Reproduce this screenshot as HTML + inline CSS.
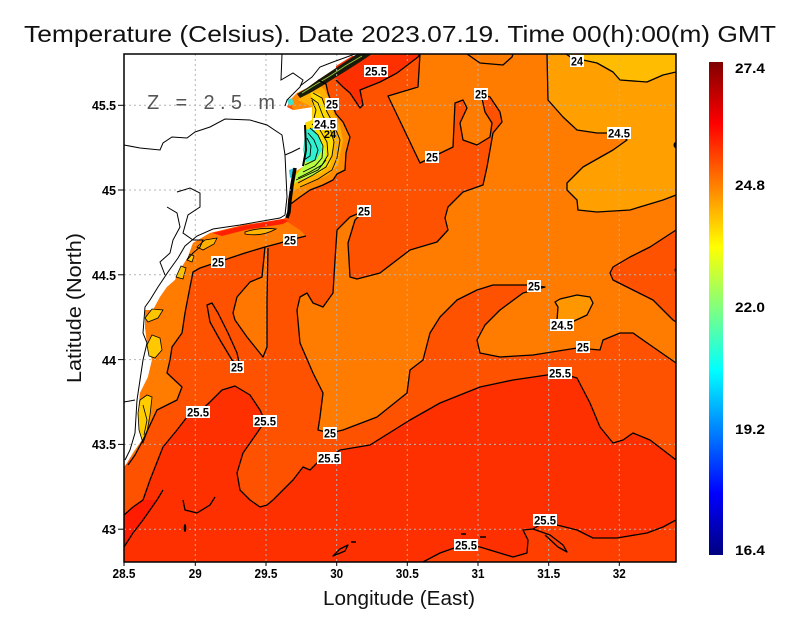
<!DOCTYPE html>
<html><head><meta charset="utf-8"><style>html,body{margin:0;padding:0;background:#fff}svg{display:block}</style></head>
<body>
<svg width="800" height="618" viewBox="0 0 800 618" xmlns="http://www.w3.org/2000/svg" font-family="'Liberation Sans', sans-serif">
<defs>
<clipPath id="plot"><rect x="124" y="54" width="552" height="508"/></clipPath>
<linearGradient id="jet" x1="0" y1="0" x2="0" y2="1">
 <stop offset="0" stop-color="#800000"/>
 <stop offset="0.125" stop-color="#ff0000"/>
 <stop offset="0.375" stop-color="#ffff00"/>
 <stop offset="0.625" stop-color="#00ffff"/>
 <stop offset="0.875" stop-color="#0000ff"/>
 <stop offset="1" stop-color="#000080"/>
</linearGradient>
</defs>
<rect width="800" height="618" fill="#fff"/>
<text x="24" y="42" font-size="23" fill="#111" textLength="752" lengthAdjust="spacingAndGlyphs">Temperature (Celsius). Date 2023.07.19. Time 00(h):00(m) GMT</text>

<g clip-path="url(#plot)">
<!-- sea base (25-25.5) -->
<path fill="#ff5200" d="M360,54 L345,62 L330,72 L318,80 L307,88 L297,93 L290,100 L287,107 L293,110 L312,107 L312,120 L305,123 L305,150 L303,167 L293,173 L292,187 L288,200 L287,217 L283,219 L243,225 L210,233 L193,243 L188,257 L180,270 L175,280 L167,287 L160,297 L153,310 L145,310 L145,327 L147,343 L152,360 L148,377 L140,393 L138,413 L142,440 L133,453 L127,463 L124,467 L124,562 L676,562 L676,54 Z"/>
<!-- big orange T<25 -->
<path fill="#ff7c00" d="M420,54 L418,87 L388,96 L420,163 L453,147 L455,103 L463,100 L467,108 L460,123 L463,140 L477,145 L490,137 L492,123 L485,112 L481,94 L490,97 L500,112 L502,122 L493,133 L487,167 L483,185 L463,192 L448,207 L445,218 L448,230 L437,242 L410,250 L380,273 L357,279 L350,277 L349,260 L348,243 L355,220 L364,211 L350,217 L337,230 L335,260 L333,293 L323,307 L313,303 L307,293 L300,297 L297,310 L300,343 L313,373 L323,393 L320,417 L318,430 L330,433 L343,430 L377,417 L407,393 L410,370 L423,360 L430,333 L440,317 L457,300 L477,290 L493,285 L527,285 L545,287 L523,293 L500,310 L485,325 L477,340 L480,353 L500,357 L533,355 L577,348 L600,350 L603,340 L620,333 L633,333 L653,347 L676,363 L676,54 Z"/>
<!-- right edge warmer patch -->
<path fill="#ff5200" d="M676,230 L650,247 L630,257 L613,267 L610,273 L613,280 L633,290 L653,300 L673,320 L676,322 Z"/>
<!-- NE cooler -->
<path fill="#ffa000" d="M547,54 L548,100 L563,117 L577,130 L597,133 L619,133 L627,140 L613,150 L583,167 L567,183 L567,190 L577,200 L578,210 L597,212 L630,210 L663,200 L676,195 L676,54 Z"/>
<path fill="#ffbc00" d="M566,54 L572,58 L583,60 L597,63 L613,72 L620,80 L647,82 L663,75 L676,72 L676,54 Z"/>
<path fill="#ff9800" d="M555,302 L560,299 L577,295 L590,297 L593,303 L587,315 L572,322 L557,320 L558,307 Z"/>
<!-- red top patch -->
<path fill="#ff3000" d="M336,66 L352,56 L420,54 L418,57 L397,73 L380,82 L360,90 L363,105 L360,108 L350,93 L343,87 L336,80 Z"/>
<!-- red south -->
<path fill="#ff3000" d="M124,515 L133,507 L143,500 L150,480 L163,447 L177,430 L187,417 L198,413 L210,402 L222,390 L235,386 L250,395 L260,410 L265,421 L257,433 L243,453 L237,473 L240,490 L250,500 L260,507 L267,505 L273,500 L280,493 L293,480 L303,467 L310,470 L317,463 L329,458 L340,450 L370,445 L410,420 L440,403 L480,387 L513,380 L547,375 L560,373 L577,378 L590,403 L600,427 L613,443 L623,440 L633,433 L650,440 L667,453 L676,460 L676,562 L124,562 Z"/>
<path fill="#ff3f00" d="M423,562 L440,553 L457,547 L466,545 L480,547 L513,557 L527,553 L528,540 L523,530 L533,529 L545,522 L557,525 L577,530 L593,538 L617,538 L647,533 L663,527 L676,520 L676,562 Z"/>
<path fill="#ff1c00" d="M124,515 L133,507 L143,500 L157,500 L150,510 L143,520 L133,533 L124,547 Z"/>
<!-- coastal orange band (west) -->
<path fill="#ff7c00" d="M210,233 L243,226 L283,219 L300,230 L306,236 L298,238 L282,242 L265,247 L245,253 L230,258 L218,262 L200,268 L193,272 L190,287 L185,313 L182,333 L172,347 L170,360 L167,373 L182,387 L177,400 L157,410 L150,425 L143,440 L135,455 L128,465 L133,453 L142,440 L138,413 L140,393 L148,377 L152,360 L147,343 L145,327 L145,310 L153,310 L160,297 L167,287 L175,280 L180,270 L188,257 L193,243 Z"/>
<path fill="#ff7600" d="M265,247 L262,277 L250,282 L237,297 L233,313 L235,320 L247,337 L263,357 L267,347 L267,300 L268,248 Z"/>
<!-- red coastal strip -->
<path fill="#ff2000" d="M212,233 L243,226 L283,219 L288,221 L283,224 L245,230 L222,236 Z"/>
<!-- yellow patches lower coast -->
<path fill="#ffb400" stroke="#000" stroke-width="0.8" d="M245,232 Q260,227 276,229 Q262,237 245,234 Z"/>
<path fill="#ffb000" stroke="#000" stroke-width="0.8" d="M197,247 L205,240 L217,238 L214,244 L203,250 Z"/>
<path fill="#ffc800" stroke="#000" stroke-width="0.8" d="M187,260 L190,254 L194,256 L192,262 Z"/>
<path fill="#ffc000" stroke="#000" stroke-width="0.8" d="M176,277 L181,266 L186,268 L183,279 Z"/>
<path fill="#ffc400" stroke="#000" stroke-width="0.8" d="M145,318 L152,309 L163,310 L158,318 L148,322 Z"/>
<path fill="#ffc800" stroke="#000" stroke-width="0.8" d="M147,345 L152,335 L160,338 L162,350 L155,358 L149,356 Z"/>
<path fill="#ffcc00" stroke="#000" stroke-width="0.8" d="M140,400 L147,395 L152,397 L150,415 L147,432 L143,443 L139,430 L138,413 Z"/>
<path fill="none" stroke="#000" stroke-width="0.8" d="M143,405 L147,420 L144,435"/>
<!-- north coastal cool zone -->
<path fill="#ff8a00" d="M318,80 L326,84 L328,93 L332,104 L336,114 L343,122 L350,137 L346,153 L345,170 L337,174 L333,180 L323,185 L310,190 L300,197 L292,203 L288,205 L288,200 L292,187 L293,173 L303,167 L305,150 L305,123 L312,120 L312,107 L293,110 L290,100 L297,93 L307,88 Z"/>
<path fill="#ffb000" d="M307,88 L318,84 L325,90 L330,102 L334,114 L340,126 L343,140 L340,155 L338,165 L328,175 L312,182 L300,188 L292,190 L293,173 L303,167 L305,150 L305,123 L312,120 L312,107 L298,100 Z"/>
<path fill="#ffdc00" d="M310,92 L320,94 L325,106 L330,119 L334,133 L333,150 L330,165 L320,173 L305,178 L295,182 L296,175 L303,167 L305,150 L305,123 L312,120 L313,105 Z"/>
<path fill="#b8ff40" d="M305,140 L318,138 L326,150 L325,165 L315,175 L300,180 L294,184 L296,175 L303,167 L305,150 Z"/>
<path fill="#30f0d0" d="M305,130 L313,128 L320,138 L322,150 L316,160 L306,162 L303,150 L305,135 Z"/>
<path fill="#40e0d0" d="M287,100 L292,98 L294,104 L289,106 Z"/>
<path fill="#30c8e0" d="M289,170 L294,168 L295,176 L290,178 Z"/>
<g fill="none" stroke="#000" stroke-width="0.9">
<path d="M313,93 L322,98 L327,112 L334,125 L340,140 L337,158 L332,170 L318,179 L300,187"/>
<path d="M311,98 L318,103 L323,116 L330,128 L334,142 L332,156 L326,167 L313,175 L298,183"/>
<path d="M312,124 L320,130 L327,142 L328,155 L322,165 L310,172 L298,178"/>
<path d="M310,128 L318,135 L323,146 L322,158 L315,166 L303,172"/>
<path d="M308,133 L314,140 L318,150 L315,160 L305,165"/>
<path d="M307,138 L311,146 L310,156 L304,160"/>
<path d="M312,100 L316,110 L314,118"/>
<path d="M296,180 L305,176 L318,170 L326,160"/>
</g>
<!-- dark dense band at top of coast -->
<path fill="#1a1a0a" d="M297,94 L307,88 L318,80 L330,72 L345,62 L357,54 L372,54 L360,62 L346,71 L333,79 L322,86 L310,93 L300,98 Z"/>
<path fill="none" stroke="#9cd040" stroke-width="0.8" d="M302,93 L315,85 L330,76 L345,66 L362,56"/>
<path fill="none" stroke="#000" stroke-width="3.5" d="M295,168 L292,185 L290,200 L289,212 L287,218"/>
<path fill="none" stroke="#000" stroke-width="2" d="M305,125 L306,150 L303,166"/>

<!-- gridlines -->
<g stroke="#b4b4b4" stroke-width="1" stroke-dasharray="2 3">
<line x1="195.3" y1="54" x2="195.3" y2="562"/>
<line x1="266" y1="54" x2="266" y2="562"/>
<line x1="336.7" y1="54" x2="336.7" y2="562"/>
<line x1="407.3" y1="54" x2="407.3" y2="562"/>
<line x1="478" y1="54" x2="478" y2="562"/>
<line x1="548.7" y1="54" x2="548.7" y2="562"/>
<line x1="619.3" y1="54" x2="619.3" y2="562"/>
<line x1="124" y1="105.3" x2="676" y2="105.3"/>
<line x1="124" y1="190" x2="676" y2="190"/>
<line x1="124" y1="274.8" x2="676" y2="274.8"/>
<line x1="124" y1="359.6" x2="676" y2="359.6"/>
<line x1="124" y1="444.4" x2="676" y2="444.4"/>
<line x1="124" y1="529.2" x2="676" y2="529.2"/>
</g>

<!-- contour lines -->
<g fill="none" stroke="#000" stroke-width="1.3" stroke-linejoin="round">
<path d="M420,54 L418,87 L388,96 L420,163 L453,147 L455,103 L463,100 L467,108 L460,123 L463,140 L477,145 L490,137 L492,123 L485,112 L481,94 L490,97 L500,112 L502,122 L493,133 L487,167 L483,185 L463,192 L448,207 L445,218 L448,230 L437,242 L410,250 L380,273 L357,279 L350,277 L349,260 L348,243 L355,220 L364,211 L350,217 L337,230 L335,260 L333,293 L323,307 L313,303 L307,293 L300,297 L297,310 L300,343 L313,373 L323,393 L320,417 L318,430 L330,433 L343,430 L377,417 L407,393 L410,370 L423,360 L430,333 L440,317 L457,300 L477,290 L493,285 L527,285 L545,287 L523,293 L500,310 L485,325 L477,340 L480,353 L500,357 L533,355 L577,348 L600,350 L603,340 L620,333 L633,333 L653,347 L676,363"/>
<path d="M547,54 L548,100 L563,117 L577,130 L597,133 L619,133 L627,140 L613,150 L583,167 L567,183 L567,190 L577,200 L578,210 L597,212 L630,210 L663,200 L676,195"/>
<path d="M566,54 L572,58 L583,60 L597,63 L613,72 L620,80 L647,82 L663,75 L676,72"/>
<path d="M467,54 L480,63 L503,65 L512,57 L513,54"/>
<path d="M676,230 L650,247 L630,257 L613,267 L610,273 L613,280 L633,290 L653,300 L673,320 L676,322"/>
<path d="M555,302 L560,299 L577,295 L590,297 L593,303 L587,315 L572,322 L557,320 L558,307 Z"/>
<path d="M124,515 L133,507 L143,500 L150,480 L163,447 L177,430 L187,417 L198,413 L210,402 L222,390 L235,386 L250,395 L260,410 L265,421 L257,433 L243,453 L237,473 L240,490 L250,500 L260,507 L267,505 L273,500 L280,493 L293,480 L303,467 L310,470 L317,463 L329,458 L340,450 L370,445 L410,420 L440,403 L480,387 L513,380 L547,375 L560,373 L577,378 L590,403 L600,427 L613,443 L623,440 L633,433 L650,440 L667,453 L676,460"/>
<path d="M423,562 L440,553 L457,547 L466,545 L480,547 L513,557 L527,553 L528,540 L523,530 L533,529 L545,522 L557,525 L577,530 L593,538 L617,538 L647,533 L663,527 L676,520"/>
<path d="M533,529 L550,535 L563,545 L567,552 L558,547 L545,535"/>
<path d="M306,236 L298,238 L290,240 L280,243 L265,247 L245,253 L230,258 L218,262 L200,268 L193,272 L190,287 L185,313 L182,333 L172,347 L170,360 L167,373 L182,387 L177,400 L157,410 L150,425 L143,440 L135,455 L128,465"/>
<path d="M265,247 L262,277 L250,282 L237,297 L233,313 L235,320 L247,337 L263,357 L267,347 L267,300 L268,248"/>
<path d="M207,305 L212,303 L218,313 L228,333 L237,353 L240,367 L232,360 L220,340 L210,322 Z"/>
<path d="M318,80 L326,84 L328,93 L332,104 L336,114 L343,122 L350,137 L346,153 L345,170 L337,174 L333,180 L323,185 L310,190 L300,197 L292,203 L288,205"/>
<path d="M336,80 L343,87 L350,93 L360,108 L363,105 L360,90 L380,82 L397,73 L418,57 L420,54"/>
<path d="M124,547 L133,533 L143,520 L150,510 L157,500 L163,490"/>
<path d="M183,500 L185,510 L197,513 L210,505 L215,497"/>
<path d="M333,556 L340,549 L348,545 L345,551 Z"/>
</g>
<g stroke="#000" stroke-width="1.5">
<line x1="351" y1="542" x2="356" y2="542"/>
<line x1="461" y1="534" x2="466" y2="534"/>
<line x1="480" y1="537" x2="486" y2="537"/>
</g>
<ellipse cx="185" cy="528" rx="1.3" ry="4" fill="#000"/>
<circle cx="677" cy="145" r="3.5" fill="#000"/>
<circle cx="677" cy="270" r="2.5" fill="#000"/>

<!-- land outlines -->
<g fill="none" stroke="#000" stroke-width="1">
<path d="M124,145 L140,148 L160,150 L163,143 L172,137 L187,138 L195,132 L210,127 L225,119 L250,120 L267,125 L282,135 L285,155 L292,152 L300,148"/>
<path d="M282,54 L281,80 L293,73 L303,80 L300,87 L287,100 L285,106"/>
<path d="M355,54 L333,62 L320,67 L312,77 L300,86"/>
<path d="M285,155 L287,197 L285,215 L280,218 L240,225 L213,229 L197,236 L185,246 L178,258 L168,272 L158,287 L150,300 L145,307 L143,333 L147,343 L143,360 L140,380 L137,400 L135,433 L130,450 L125,460"/>
<path d="M124,402 L135,400"/>
<path d="M177,192 L190,188 L200,193 L200,207 L188,215 L183,233 L193,240 L203,240 L200,247 L193,253 L187,260"/>
<path d="M167,207 L177,213 L180,227 L173,240 L170,253 L160,262 L165,275"/>
</g>
</g>

<!-- contour labels -->
<g font-size="12" font-weight="bold" text-anchor="middle" fill="#000">
<text x="330" y="138" font-size="11">24</text>
<rect x="364" y="65" width="24" height="12" fill="#fff"/><text x="376" y="75.5" textLength="22" lengthAdjust="spacingAndGlyphs">25.5</text>
<rect x="325" y="98" width="14" height="12" fill="#fff"/><text x="332" y="108.5" textLength="12" lengthAdjust="spacingAndGlyphs">25</text>
<rect x="313" y="118" width="24" height="12" fill="#fff"/><text x="325" y="128.5" textLength="22" lengthAdjust="spacingAndGlyphs">24.5</text>
<rect x="474" y="88" width="14" height="12" fill="#fff"/><text x="481" y="98.5" textLength="12" lengthAdjust="spacingAndGlyphs">25</text>
<rect x="570" y="55" width="14" height="12" fill="#fff"/><text x="577" y="65.5" textLength="12" lengthAdjust="spacingAndGlyphs">24</text>
<rect x="607" y="127" width="24" height="12" fill="#fff"/><text x="619" y="137.5" textLength="22" lengthAdjust="spacingAndGlyphs">24.5</text>
<rect x="425" y="151" width="14" height="12" fill="#fff"/><text x="432" y="161.5" textLength="12" lengthAdjust="spacingAndGlyphs">25</text>
<rect x="357" y="205" width="14" height="12" fill="#fff"/><text x="364" y="215.5" textLength="12" lengthAdjust="spacingAndGlyphs">25</text>
<rect x="283" y="234" width="14" height="12" fill="#fff"/><text x="290" y="244.5" textLength="12" lengthAdjust="spacingAndGlyphs">25</text>
<rect x="211" y="256" width="14" height="12" fill="#fff"/><text x="218" y="266.5" textLength="12" lengthAdjust="spacingAndGlyphs">25</text>
<rect x="527" y="280" width="14" height="12" fill="#fff"/><text x="534" y="290.5" textLength="12" lengthAdjust="spacingAndGlyphs">25</text>
<rect x="550" y="319" width="24" height="12" fill="#fff"/><text x="562" y="329.5" textLength="22" lengthAdjust="spacingAndGlyphs">24.5</text>
<rect x="576" y="341" width="14" height="12" fill="#fff"/><text x="583" y="351.5" textLength="12" lengthAdjust="spacingAndGlyphs">25</text>
<rect x="230" y="361" width="14" height="12" fill="#fff"/><text x="237" y="371.5" textLength="12" lengthAdjust="spacingAndGlyphs">25</text>
<rect x="548" y="367" width="24" height="12" fill="#fff"/><text x="560" y="377.5" textLength="22" lengthAdjust="spacingAndGlyphs">25.5</text>
<rect x="186" y="406" width="24" height="12" fill="#fff"/><text x="198" y="416.5" textLength="22" lengthAdjust="spacingAndGlyphs">25.5</text>
<rect x="253" y="415" width="24" height="12" fill="#fff"/><text x="265" y="425.5" textLength="22" lengthAdjust="spacingAndGlyphs">25.5</text>
<rect x="323" y="427" width="14" height="12" fill="#fff"/><text x="330" y="437.5" textLength="12" lengthAdjust="spacingAndGlyphs">25</text>
<rect x="317" y="452" width="24" height="12" fill="#fff"/><text x="329" y="462.5" textLength="22" lengthAdjust="spacingAndGlyphs">25.5</text>
<rect x="533" y="514" width="24" height="12" fill="#fff"/><text x="545" y="524.5" textLength="22" lengthAdjust="spacingAndGlyphs">25.5</text>
<rect x="454" y="539" width="24" height="12" fill="#fff"/><text x="466" y="549.5" textLength="22" lengthAdjust="spacingAndGlyphs">25.5</text>
</g>

<text x="147" y="109" font-size="20" fill="#555" textLength="128" lengthAdjust="spacing">Z = 2.5 m</text>

<!-- frame -->
<rect x="124" y="54" width="552" height="508" fill="none" stroke="#000" stroke-width="1.5"/>

<!-- ticks -->
<g stroke="#000" stroke-width="1">
<line x1="124" y1="562" x2="124" y2="566"/><line x1="195.3" y1="562" x2="195.3" y2="566"/><line x1="266" y1="562" x2="266" y2="566"/><line x1="336.7" y1="562" x2="336.7" y2="566"/><line x1="407.3" y1="562" x2="407.3" y2="566"/><line x1="478" y1="562" x2="478" y2="566"/><line x1="548.7" y1="562" x2="548.7" y2="566"/><line x1="619.3" y1="562" x2="619.3" y2="566"/>
<line x1="118" y1="105.3" x2="124" y2="105.3"/><line x1="118" y1="190" x2="124" y2="190"/><line x1="118" y1="274.8" x2="124" y2="274.8"/><line x1="118" y1="359.6" x2="124" y2="359.6"/><line x1="118" y1="444.4" x2="124" y2="444.4"/><line x1="118" y1="529.2" x2="124" y2="529.2"/>
</g>
<g font-size="13" font-weight="bold" fill="#000" text-anchor="middle">
<text x="124" y="578" textLength="23" lengthAdjust="spacingAndGlyphs">28.5</text>
<text x="195.3" y="578" textLength="13" lengthAdjust="spacingAndGlyphs">29</text>
<text x="266" y="578" textLength="23" lengthAdjust="spacingAndGlyphs">29.5</text>
<text x="336.7" y="578" textLength="13" lengthAdjust="spacingAndGlyphs">30</text>
<text x="407.3" y="578" textLength="23" lengthAdjust="spacingAndGlyphs">30.5</text>
<text x="478" y="578" textLength="13" lengthAdjust="spacingAndGlyphs">31</text>
<text x="548.7" y="578" textLength="23" lengthAdjust="spacingAndGlyphs">31.5</text>
<text x="619.3" y="578" textLength="13" lengthAdjust="spacingAndGlyphs">32</text>
</g>
<g font-size="13" font-weight="bold" fill="#000" text-anchor="end">
<text x="116" y="110" textLength="24" lengthAdjust="spacingAndGlyphs">45.5</text>
<text x="116" y="195" textLength="14" lengthAdjust="spacingAndGlyphs">45</text>
<text x="116" y="280" textLength="24" lengthAdjust="spacingAndGlyphs">44.5</text>
<text x="116" y="365" textLength="14" lengthAdjust="spacingAndGlyphs">44</text>
<text x="116" y="449" textLength="24" lengthAdjust="spacingAndGlyphs">43.5</text>
<text x="116" y="534" textLength="14" lengthAdjust="spacingAndGlyphs">43</text>
</g>

<text x="323" y="605" font-size="20" fill="#111" textLength="152" lengthAdjust="spacingAndGlyphs">Longitude (East)</text>
<text transform="translate(81,308) rotate(-90)" x="0" y="0" font-size="20" fill="#111" text-anchor="middle" textLength="150" lengthAdjust="spacingAndGlyphs">Latitude (North)</text>

<!-- colorbar -->
<rect x="709" y="62" width="14" height="493" fill="url(#jet)"/>
<g font-size="14" font-weight="bold" fill="#000">
<text x="735" y="73" textLength="30" lengthAdjust="spacingAndGlyphs">27.4</text>
<text x="735" y="190" textLength="30" lengthAdjust="spacingAndGlyphs">24.8</text>
<text x="735" y="312" textLength="30" lengthAdjust="spacingAndGlyphs">22.0</text>
<text x="735" y="434" textLength="30" lengthAdjust="spacingAndGlyphs">19.2</text>
<text x="735" y="555" textLength="30" lengthAdjust="spacingAndGlyphs">16.4</text>
</g>
</svg>
</body></html>
